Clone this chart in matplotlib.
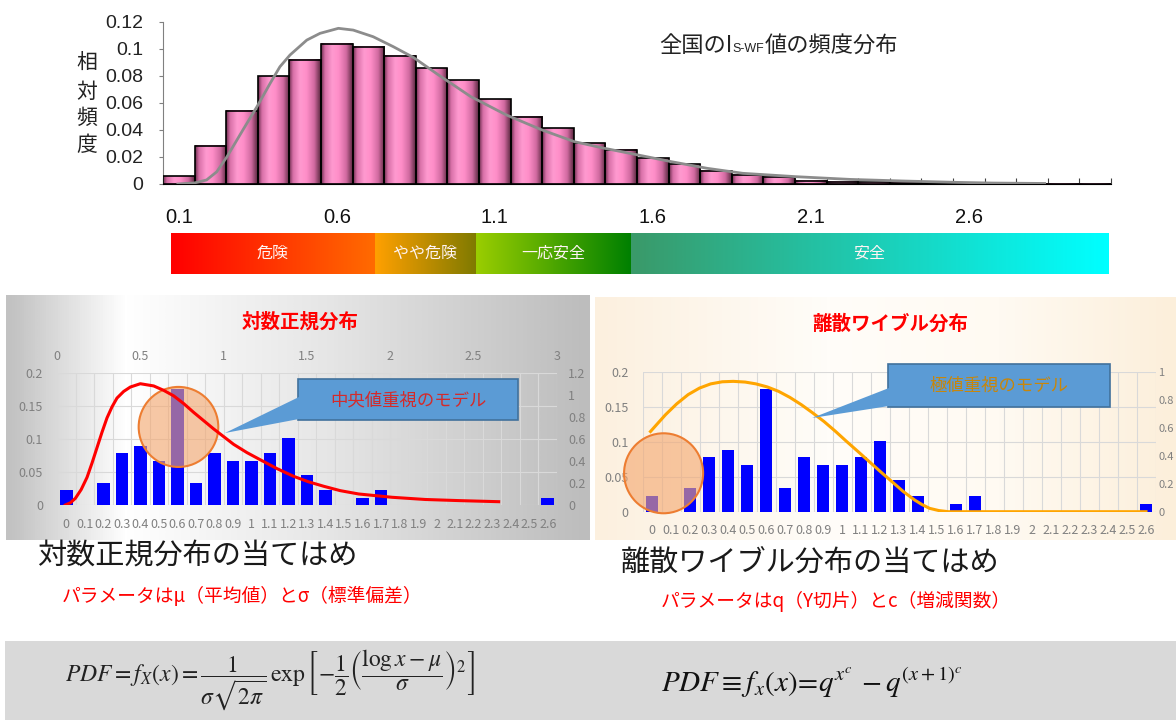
import matplotlib
matplotlib.use("Agg")
import matplotlib.pyplot as plt
import numpy as np
from matplotlib import font_manager
from matplotlib.colors import LinearSegmentedColormap
from matplotlib.patches import Rectangle, Polygon, Ellipse

plt.rcParams['font.family'] = ['Noto Sans CJK JP', 'DejaVu Sans']
plt.rcParams['mathtext.fontset'] = 'stix'

names = {f.name for f in font_manager.fontManager.ttflist}
NUM_FONT = 'Liberation Sans Narrow' if 'Liberation Sans Narrow' in names else 'Liberation Sans'

# ---- top histogram (全国) ----
bin_centers = np.round(np.arange(1, 31) * 0.1, 1)
rel_freq = [0.0058, 0.0283, 0.0542, 0.0797, 0.0917, 0.1036, 0.1014, 0.0947, 0.0855, 0.0766,
            0.0628, 0.0498, 0.0411, 0.0301, 0.0255, 0.0190, 0.0145, 0.0099, 0.0067, 0.0054,
            0.0025, 0.0017, 0.0012, 0.0008, 0.0006, 0.0004, 0.0003, 0.0002, 0.0001, 0.0001]
fit_x = [0.097, 0.15, 0.188, 0.22, 0.252, 0.303, 0.347, 0.389, 0.42, 0.452, 0.505, 0.547, 0.605,
         0.652, 0.715, 0.779, 0.843, 0.922, 1.024, 1.137, 1.25, 1.352, 1.447, 1.546, 1.659,
         1.772, 1.885, 2.054, 2.224, 2.394, 2.563, 2.676, 2.84]
fit_y = [0.0, 0.0008, 0.003, 0.009, 0.020, 0.040, 0.057, 0.0744, 0.0867, 0.0954, 0.1064, 0.1114,
         0.1151, 0.1138, 0.1089, 0.1015, 0.0935, 0.0806, 0.0646, 0.051, 0.0399, 0.0313, 0.0264,
         0.0218, 0.0165, 0.0116, 0.0079, 0.0054, 0.0034, 0.0022, 0.0012, 0.0007, 0.0004]
y_ticks_top = [0, 0.02, 0.04, 0.06, 0.08, 0.1, 0.12]
y_ticklabels_top = ['0', '0.02', '0.04', '0.06', '0.08', '0.1', '0.12']

# ---- judgement scale ----
scale_labels = ['0.1', '0.6', '1.1', '1.6', '2.1', '2.6']
zone_edges = [0.075, 0.72, 1.04, 1.53, 3.04]
zone_names = ['危険', 'やや危険', '一応安全', '安全']
zone_colors = [('#ff0000', '#ff6a00'), ('#ffa000', '#7f7a00'),
               ('#9acd00', '#008000'), ('#3a9a6a', '#00ffff')]

# ---- sample histogram (middle charts) ----
categories = ['0', '0.1', '0.2', '0.3', '0.4', '0.5', '0.6', '0.7', '0.8', '0.9', '1',
              '1.1', '1.2', '1.3', '1.4', '1.5', '1.6', '1.7', '1.8', '1.9', '2',
              '2.1', '2.2', '2.3', '2.4', '2.5', '2.6']
sample_freq = [0.023, 0, 0.034, 0.079, 0.089, 0.067, 0.176, 0.034, 0.079, 0.067, 0.067,
               0.079, 0.101, 0.045, 0.023, 0, 0.011, 0.023, 0, 0, 0,
               0, 0, 0, 0, 0, 0.011]
logn_x = [0.05, 0.08, 0.11, 0.145, 0.18, 0.21, 0.24, 0.27, 0.30, 0.33, 0.36, 0.40, 0.44, 0.50,
          0.58, 0.64, 0.70, 0.76, 0.82, 0.88, 0.94, 1.00, 1.06, 1.14, 1.22, 1.32, 1.42, 1.51,
          1.60, 1.70, 1.81, 1.91, 2.01, 2.21, 2.41, 2.65]
logn_y = [0.0, 0.02, 0.06, 0.14, 0.25, 0.38, 0.52, 0.66, 0.79, 0.89, 0.97, 1.03, 1.07, 1.10,
          1.08, 1.04, 0.99, 0.92, 0.84, 0.765, 0.69, 0.62, 0.55, 0.475, 0.41, 0.33, 0.26, 0.21,
          0.17, 0.13, 0.10, 0.085, 0.07, 0.05, 0.04, 0.03]
wb_x = [-0.08, 0.3, 0.71, 1.3, 1.9, 2.5, 3.09, 3.7, 4.28, 4.9, 5.47, 6.07, 6.67, 7.26, 7.86,
        8.45, 9.05, 9.65, 10.24, 10.84, 11.43, 12.03, 12.63, 13.22, 13.82, 14.2, 14.61, 15.1,
        15.6, 26.0]
wb_y = [0.574, 0.632, 0.694, 0.772, 0.838, 0.885, 0.915, 0.930, 0.933, 0.928, 0.915, 0.893,
        0.861, 0.818, 0.766, 0.708, 0.646, 0.576, 0.503, 0.431, 0.359, 0.286, 0.215, 0.145,
        0.084, 0.052, 0.024, 0.008, 0.0, 0.0]

W, H = 1176, 720
fig = plt.figure(figsize=(W / 100, H / 100), dpi=100)


def rect(x0, y0, x1, y1):
    return [x0 / W, 1 - y1 / H, (x1 - x0) / W, (y1 - y0) / H]


def ftext(x, y, s, **kw):
    return fig.text(x / W, 1 - y / H, s, **kw)


def fpoly(pts, **kw):
    p = Polygon([(x / W, 1 - y / H) for x, y in pts], closed=True,
                transform=fig.transFigure, **kw)
    fig.add_artist(p)


# ================= top histogram =================
ax = fig.add_axes(rect(163, 21.7, 1111, 184))
pink = LinearSegmentedColormap.from_list('pink3d', [(0, '#6e2e4e'), (0.12, '#d870a8'),
                                                    (0.35, '#ff9ad0'), (0.55, '#ff8ec8'),
                                                    (0.8, '#d06aa0'), (1, '#5a2840')])
grad = np.linspace(0, 1, 64).reshape(1, -1)
for xc, h in zip(bin_centers, rel_freq):
    ax.imshow(grad, extent=(xc - 0.05, xc + 0.05, 0, h), aspect='auto', cmap=pink,
              interpolation='bicubic', zorder=2)
ax.bar(bin_centers, rel_freq, width=0.1, facecolor='none', edgecolor='black', lw=1.2, zorder=3)
ax.plot(fit_x, fit_y, color='#8c8c8c', lw=2, zorder=4)
ax.set_xlim(0.05, 3.05)
ax.set_ylim(0, 0.12)
for s in ['top', 'right']:
    ax.spines[s].set_visible(False)
ax.spines['left'].set_color('#808080')
ax.spines['bottom'].set_color('black')
ax.set_xticks(np.arange(0.05, 3.06, 0.1))
ax.tick_params(axis='x', direction='in', length=4, labelbottom=False, color='#404040')
ax.set_yticks(y_ticks_top)
ax.set_yticklabels(y_ticklabels_top, fontfamily=NUM_FONT, fontsize=14, color='#222222')
ax.tick_params(axis='y', direction='out', length=3, pad=11, color='#808080')

for ch, yy in zip('相対頻度', [63, 92, 118, 145]):
    ftext(87, yy, ch, fontsize=15, ha='center', va='center', color='#222222')

renderer = fig.canvas.get_renderer()
t1 = ftext(659, 45, '全国のI', fontsize=16, ha='left', va='center', color='#222222')
bb = t1.get_window_extent(renderer)
t2 = fig.text(bb.x1 / W, 1 - 49 / H, 'S-WF', fontsize=9, ha='left', va='center',
              fontfamily=NUM_FONT, color='#222222')
bb2 = t2.get_window_extent(renderer)
ftext(bb2.x1 + 1, 45, '値の頻度分布', fontsize=16, ha='left', va='center', color='#222222')

# ================= scale bar =================
axs = fig.add_axes(rect(163, 232.7, 1111, 274))
for (c0, c1), e0, e1, nm in zip(zone_colors, zone_edges[:-1], zone_edges[1:], zone_names):
    cm = LinearSegmentedColormap.from_list('z', [c0, c1])
    axs.imshow(grad, extent=(e0, e1, 0, 1), aspect='auto', cmap=cm, interpolation='bicubic')
    axs.text((e0 + e1) / 2, 0.5, nm, ha='center', va='center', color='#fff4f4',
             fontsize=11.5)
for lab in scale_labels:
    axs.text(float(lab), 1.36, lab, ha='center', va='center', fontsize=14.5,
             fontfamily=NUM_FONT, color='#111111')
axs.set_xlim(0.05, 3.05)
axs.set_ylim(0, 1)
axs.axis('off')

# ================= middle panels background =================
bgL = fig.add_axes(rect(6, 295, 590, 540))
grayL = LinearSegmentedColormap.from_list('gL', [(0, '#c2c2c2'), (0.2, '#ffffff'),
                                                 (0.55, '#e6e6e6'), (1, '#bdbdbd')])
bgL.imshow(grad, extent=(0, 1, 0, 1), aspect='auto', cmap=grayL, interpolation='bicubic')
bgL.axis('off')

bgR = fig.add_axes(rect(595, 297, 1176, 540))
cream = LinearSegmentedColormap.from_list('cr', [(0, '#fcf0df'), (0.4, '#fffdf9'),
                                                 (0.7, '#fffaf2'), (1, '#fcefdb')])
bgR.imshow(grad, extent=(0, 1, 0, 1), aspect='auto', cmap=cream, interpolation='bicubic')
bgR.axis('off')

cat_pos = np.arange(len(categories))
tick_gray = '#808080'


def cat_chart(box):
    a = fig.add_axes(rect(*box))
    a.set_facecolor('none')
    a.bar(cat_pos, sample_freq, width=0.68, color='#0000ff', zorder=3)
    a.set_xlim(-0.5, len(categories) - 0.5)
    a.set_ylim(0, 0.2)
    a.set_xticks(cat_pos)
    a.set_xticklabels(categories, fontsize=9, color=tick_gray)
    a.set_xticks(np.arange(-0.5, len(categories), 1), minor=True)
    a.set_yticks([0, 0.05, 0.1, 0.15, 0.2])
    a.set_yticklabels(['0', '0.05', '0.1', '0.15', '0.2'], fontsize=9, color=tick_gray)
    a.tick_params(axis='x', which='both', length=0, pad=9)
    a.tick_params(axis='y', length=0, pad=10)
    a.grid(True, which='minor', axis='x', color='#d9d9d9', lw=0.8, zorder=0)
    a.grid(True, which='major', axis='y', color='#d9d9d9', lw=0.8, zorder=0)
    for s in a.spines.values():
        s.set_visible(False)
    return a


axL = cat_chart((57, 372.7, 557, 505))
axL.add_patch(Ellipse((6.06, 0.118), 4.3, 0.121, facecolor='#f4a870', alpha=0.62,
                      edgecolor='none', zorder=5))
axL.add_patch(Ellipse((6.06, 0.118), 4.3, 0.121, facecolor='none', edgecolor='#ed7d31',
                      lw=1.5, zorder=6))

axC = fig.add_axes(rect(57, 372.7, 557, 505))
axC.patch.set_visible(False)
axC.plot(logn_x, logn_y, color='#ff0000', lw=2.2)
axC.set_xlim(0, 3)
axC.set_ylim(0, 1.2)
axC.xaxis.tick_top()
axC.yaxis.tick_right()
axC.set_xticks([0, 0.5, 1, 1.5, 2, 2.5, 3])
axC.set_xticklabels(['0', '0.5', '1', '1.5', '2', '2.5', '3'], fontsize=9, color=tick_gray)
axC.set_yticks([0, 0.2, 0.4, 0.6, 0.8, 1.0, 1.2])
axC.set_yticklabels(['0', '0.2', '0.4', '0.6', '0.8', '1', '1.2'], fontsize=9, color=tick_gray)
axC.tick_params(axis='x', length=0, pad=7)
axC.tick_params(axis='y', length=0, pad=8)
for s in axC.spines.values():
    s.set_visible(False)

ftext(300, 322, '対数正規分布', fontsize=14, fontweight='bold', color='#ff0000',
      ha='center', va='center')

# callout (left)
fpoly([(298, 379), (518, 379), (518, 420), (298, 420)], facecolor='#5b9bd5',
      edgecolor='#41719c', lw=1.2, zorder=8)
fpoly([(299, 397), (299, 419), (225, 433)], facecolor='#5b9bd5', edgecolor='none', zorder=8)
ftext(408, 400, '中央値重視のモデル', fontsize=12.5, color='#d42a2a', ha='center',
      va='center', zorder=9)

# ================= middle right panel =================
axR = cat_chart((642.5, 372, 1155.5, 511.7))
axR.add_patch(Ellipse((0.61, 0.055), 4.16, 0.1145, facecolor='#f4a870', alpha=0.62,
                      edgecolor='none', zorder=5, clip_on=False))
axR.add_patch(Ellipse((0.61, 0.055), 4.16, 0.1145, facecolor='none', edgecolor='#ed7d31',
                      lw=1.5, zorder=6, clip_on=False))
axR2 = axR.twinx()
axR2.plot(wb_x, wb_y, color='#ffa500', lw=2.2)
axR2.set_ylim(0, 1)
axR2.set_yticks([0, 0.2, 0.4, 0.6, 0.8, 1.0])
axR2.set_yticklabels(['0', '0.2', '0.4', '0.6', '0.8', '1'], fontsize=8, color=tick_gray)
axR2.tick_params(axis='y', length=0, pad=2)
for s in axR2.spines.values():
    s.set_visible(False)

ftext(890, 324, '離散ワイブル分布', fontsize=14, fontweight='bold', color='#ff0000',
      ha='center', va='center')

fpoly([(888, 364), (1110, 364), (1110, 407), (888, 407)], facecolor='#5b9bd5',
      edgecolor='#41719c', lw=1.2, zorder=8)
fpoly([(889, 388), (889, 406), (812, 418)], facecolor='#5b9bd5', edgecolor='none', zorder=8)
ftext(999, 386, '極値重視のモデル', fontsize=12.5, color='#c8860a', ha='center',
      va='center', zorder=9)

# ================= captions =================
ftext(37, 557, '対数正規分布の当てはめ', fontsize=21, color='#1a1a1a', ha='left', va='center')
ftext(62, 596, 'パラメータはμ（平均値）とσ（標準偏差）', fontsize=13.5, color='#ff0000',
      ha='left', va='center', style='italic')
ftext(621, 563, '離散ワイブル分布の当てはめ', fontsize=21, color='#1a1a1a', ha='left', va='center')
ftext(661, 601, 'パラメータはq（Y切片）とc（増減関数）', fontsize=13.5, color='#ff0000',
      ha='left', va='center', style='italic')

# ================= formula band =================
fig.add_artist(Rectangle((5 / W, 0), (W - 5) / W, 79 / H, facecolor='#d9d9d9',
                         edgecolor='none', transform=fig.transFigure, zorder=0))
ftext(270, 681, r'$PDF = f_X(x) = \dfrac{1}{\sigma\sqrt{2\pi}}\,\exp\left[-\dfrac{1}{2}'
                r'\left(\dfrac{\log x - \mu}{\sigma}\right)^2\right]$',
      fontsize=17, color='#222222', ha='center', va='center')
ftext(812, 683, r'$PDF \equiv f_x(x)\!=\!q^{x^c}\,-q^{(x+1)^c}$', fontsize=21,
      color='#111111', ha='center', va='center')

fig.savefig('out.png', dpi=100)
